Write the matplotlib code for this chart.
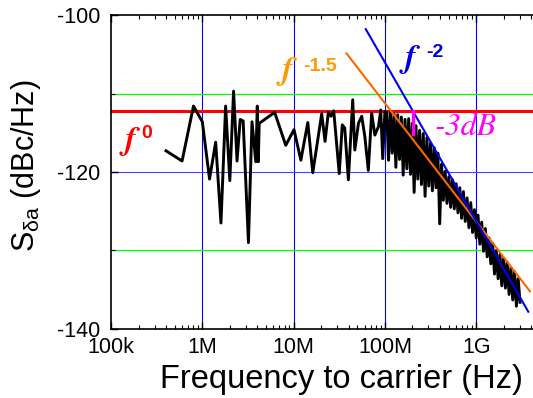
import matplotlib
matplotlib.use("Agg")
import matplotlib.pyplot as plt
from matplotlib.ticker import FixedLocator, NullFormatter

plt.rcParams["font.family"] = ["Liberation Sans", "DejaVu Sans"]
plt.rcParams["mathtext.fontset"] = "custom"
plt.rcParams["mathtext.rm"] = "Liberation Sans"
plt.rcParams["mathtext.it"] = "Liberation Sans"
plt.rcParams["mathtext.default"] = "regular"
plt.rcParams["axes.unicode_minus"] = False

# measured spectrum (frequency in MHz, level in dBc/Hz)
freq_mhz = [
    0.4, 0.6, 0.8, 1.0, 1.2, 1.4, 1.6, 1.8, 2.0, 2.2, 2.4, 2.6, 2.8, 3.2, 3.5,
    3.85, 4.0, 4.1, 4.2, 6.2, 8.2, 10.1, 12.0, 14.3, 16.2, 20.3, 22.1, 24.0,
    25.7, 27.5, 31.6, 34.1, 36.3, 39.8, 44.4, 46.8, 51.3, 55.7, 60.3, 65.8,
    71.6, 77.6, 85.1, 90.0, 94.6, 100.0,
    104.7, 109.6, 114.8, 120.2, 125.9, 131.8, 138.0, 144.5, 151.4, 158.5,
    166.0, 173.8, 182.0, 190.5, 199.5, 208.9, 218.8, 229.1, 239.9, 251.2,
    263.0, 275.4, 288.4, 302.0, 316.2, 331.1, 346.7, 363.1, 380.2, 398.1,
    416.9, 436.5, 457.1, 478.6, 501.2, 524.8, 549.5, 575.4, 602.6, 631.0,
    660.7, 691.8, 724.4, 758.6, 794.3, 831.8, 871.0, 912.0, 955.0, 1000,
    1047, 1096, 1148, 1202, 1259, 1318, 1380, 1445, 1514, 1585,
    1660, 1738, 1820, 1905, 1995, 2089, 2188, 2291, 2399, 2512,
    2630, 2754, 2884, 3020,
]
level_db = [
    -117.3, -118.6, -111.6, -113.6, -120.9, -116.2, -126.5, -111.6, -121.1,
    -109.7, -118.6, -113.3, -113.5, -129.0, -113.6, -118.7, -111.6, -118.7,
    -113.8, -112.4, -116.6, -114.6, -118.5, -113.7, -120.1, -112.6, -116.1,
    -112.4, -112.9, -112.2, -120.2, -114.0, -114.4, -121.0, -110.8, -117.2,
    -113.8, -112.9, -115.5, -119.8, -112.5, -115.3, -114.2, -112.1, -118.3,
    -112.3,
    -112.4, -118.5, -112.3, -117.6, -112.6, -119.4, -112.7, -118.4, -113.0,
    -120.4, -113.3, -119.6, -113.2, -120.3, -113.8, -122.6, -114.1, -120.9,
    -114.7, -121.6, -115.1, -123.1, -115.6, -121.8, -116.3, -122.4, -116.9,
    -122.0, -117.6, -126.6, -119.0, -123.6, -119.9, -124.0, -120.6, -124.5,
    -121.0, -124.7, -121.5, -125.2, -122.0, -125.9, -122.5, -126.3, -123.3,
    -127.1, -123.9, -127.7, -124.8, -128.4, -125.5, -129.2, -126.4, -130.1,
    -127.2, -130.8, -128.4, -131.7, -129.1, -133.0, -130.0, -133.6, -130.5,
    -134.5, -131.0, -134.8, -131.5, -135.6, -132.2, -136.3, -132.7, -137.1,
    -133.6, -136.6,
]

# asymptote lines
f0_level = -112.2
f15_freq = [38e6, 3.88e9]
f15_db = [-104.9, -135.2]
f2_freq = [61.7e6, 3.72e9]
f2_db = [-101.8, -137.8]

# -3 dB marker
marker_freq = 205e6
marker_db = [-112.2, -115.1]

xticks = [1e5, 1e6, 1e7, 1e8, 1e9]
xticklabels = ["100k", "1M", "10M", "100M", "1G"]
yticks = [-100, -120, -140]

fig = plt.figure(figsize=(5.33, 3.98), dpi=100)
ax = fig.add_axes([0.2083, 0.1734, 0.7917, 0.7889])

ax.set_xscale("log")
ax.set_xlim(1e5, 10 ** 9.622)
ax.set_ylim(-140, -100)

# grid
for x in xticks[1:]:
    ax.axvline(x, color="#0000ff", lw=0.8, zorder=1)
ax.axhline(-110, color="#00ff00", lw=0.9, zorder=1)
ax.axhline(-130, color="#00ff00", lw=0.9, zorder=1)
ax.axhline(-120, color="#4444ff", lw=0.8, zorder=1)

ax.axhline(f0_level, color="#ff0000", lw=2.2, zorder=2)

freq_hz = [f * 1e6 for f in freq_mhz]
ax.plot(freq_hz, level_db, color="black", lw=2.1, zorder=3)

ax.plot(f15_freq, f15_db, color="#ff6600", lw=1.5, zorder=4)
ax.plot(f2_freq, f2_db, color="#0000ee", lw=1.5, zorder=4)
ax.plot([marker_freq, marker_freq], marker_db, color="#ff00ff", lw=2.4, zorder=5)

# labels on the chart
fserif = dict(family="STIXGeneral", style="italic", weight="bold", fontsize=24)
fsup = dict(family="Liberation Sans", weight="bold", fontsize=14)
ax.text(1.42e5, -116.0, "f", color="#ff0000", va="center", **fserif)
ax.text(2.15e5, -115.1, "0", color="#ff0000", va="center", **fsup)
ax.text(7.4e6, -107.1, "f", color="#ff9900", va="center", **fserif)
ax.text(12.6e6, -106.5, "-1.5", color="#ff9900", va="center", **fsup)
ax.text(165e6, -105.6, "f", color="#0000dd", va="center", **fserif)
ax.text(285e6, -104.8, "-2", color="#0000dd", va="center", **fsup)
ax.text(350e6, -114.4, "-3dB", color="#ff00ff", va="center",
        family="STIXGeneral", style="italic", fontsize=23)

# axes styling
ax.spines["right"].set_visible(False)
for s in ["left", "bottom", "top"]:
    ax.spines[s].set_linewidth(1.2)
ax.set_xticks(xticks)
ax.set_xticklabels(xticklabels)
ax.xaxis.set_minor_formatter(NullFormatter())
ax.set_yticks(yticks)
ax.yaxis.set_minor_locator(FixedLocator([-110, -130]))
ax.tick_params(which="both", direction="in", top=True, labelsize=15.5)
ax.tick_params(which="major", length=5, width=1.0)
ax.tick_params(which="minor", length=3, width=0.8)
ax.tick_params(axis="y", pad=8)
ax.tick_params(axis="x", pad=5.5)

ax.set_xlabel("Frequency to carrier (Hz)", fontsize=23.5)
ax.xaxis.set_label_coords(0.547, -0.11)
ax.set_ylabel("S$_{\\delta a}$ (dBc/Hz)", fontsize=22)
ax.yaxis.set_label_coords(-0.161, 0.52)

fig.savefig("out.png", dpi=100)
